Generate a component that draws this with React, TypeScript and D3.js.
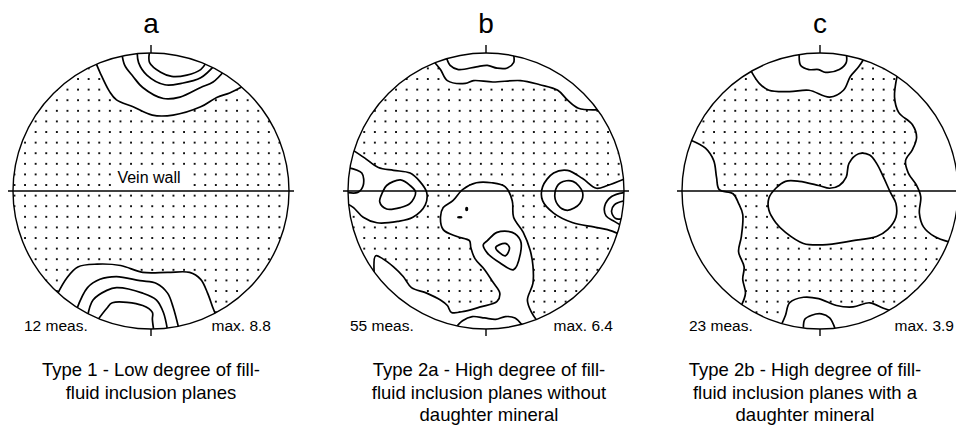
import React, { useEffect, useRef } from 'react';
import * as d3 from 'd3';

type Pt = [number, number];

// Contours are digitised in net units: percent of the primitive radius, x to the right, y up.

// net a - Type 1
const aTop1: Pt[] = [[-40, 93], [-37, 86], [-30, 72], [-25, 66], [-13, 61], [1, 55], [16, 55], [36, 61], [48, 68], [57, 71], [67, 76]];
const aTop2: Pt[] = [[-21, 99], [-19, 91], [-13, 83], [-6, 75], [9, 67], [21, 68], [36, 75], [45, 79], [53, 87]];
const aTop3: Pt[] = [[-10, 101], [-9, 93], [-3, 84], [10, 77], [22, 78], [36, 82], [46, 91]];
const aTop4: Pt[] = [[-1, 101], [-1, 93], [7, 86], [15, 83], [26, 84], [36, 88], [40, 93]];
const aBot1: Pt[] = [[-68, -75], [-61, -63], [-53, -55], [-39, -53], [-22, -54], [-6, -59], [12, -59], [28, -59], [36, -64], [41, -74], [45, -85], [47, -90]];
const aBot2: Pt[] = [[-54, -86], [-46, -70], [-37, -64], [-25, -62], [-8, -65], [4, -67], [12, -74], [16, -84], [20, -99]];
const aBot3: Pt[] = [[-46, -91], [-42, -79], [-32, -72], [-25, -70], [-6, -74], [4, -79], [9, -88], [12, -101]];
const aBot4: Pt[] = [[-39, -94], [-32, -85], [-28, -81], [-6, -83], [1, -88], [1, -93], [2, -101]];

// net b - Type 2a
const bTop1: Pt[] = [[-38, 94], [-33, 88], [-28, 80], [-15, 78], [-9, 80], [5, 79], [25, 80], [39, 77], [52, 73], [59, 66], [67, 60], [83, 59]];
const bTop2: Pt[] = [[-29, 98], [-26, 91], [-20, 88], [-7, 90], [1, 91], [8, 89], [15, 89], [20, 93], [20, 99]];
const bLeft1: Pt[] = [[-97, 30], [-88, 24], [-78, 17], [-67, 15], [-55, 13], [-48, 7], [-43, -1], [-44, -10], [-53, -19], [-64, -22], [-79, -23], [-89, -19], [-96, -12], [-101, -9]];
const bLeft2: Pt[] = [[-100, 17], [-90, 13], [-89, 4], [-93, -1], [-101, -1]];
const bLeft3: Pt[] = [[-72, 4], [-62, 8], [-55, 4], [-51, -1], [-55, -9], [-62, -12], [-72, -13], [-77, -8], [-75, -1]];
const bRight1: Pt[] = [[101, 9], [88, 4], [80, 2], [70, 9], [59, 15], [49, 13], [41, 3], [41, -7], [49, -16], [63, -23], [78, -26], [88, -28], [96, -31]];
const bRight2: Pt[] = [[101, -1], [91, -4], [86, -11], [87, -18], [93, -22], [98, -25]];
const bRight3: Pt[] = [[54, 6], [63, 7], [70, -1], [68, -9], [59, -14], [52, -10], [50, -1]];
const bRight4: Pt[] = [[101, -7], [93, -10], [91, -15], [94, -20], [99, -20]];
const bCentral: Pt[] = [[-81, -60], [-80, -47], [-75, -49], [-67, -55], [-60, -62], [-54, -70], [-43, -74], [-33, -79], [-28, -83], [-25, -88], [-15, -87], [-4, -84], [8, -80], [10, -74], [5, -66], [-1, -57], [-8, -49], [-11, -41], [-12, -36], [-21, -33], [-31, -28], [-33, -19], [-31, -12], [-24, -7], [-17, 1], [-7, 6], [4, 6], [14, 3], [19, -7], [20, -19], [27, -30], [32, -43], [34, -54], [34, -67], [30, -79], [33, -88], [37, -94]];
const bCentral2: Pt[] = [[1, -36], [8, -30], [19, -30], [25, -36], [25, -45], [20, -57], [10, -52], [1, -45], [-2, -39]];
const bCentral3: Pt[] = [[7, -41], [14, -38], [17, -41], [14, -47]];
const bBottom: Pt[] = [[-22, -99], [-17, -94], [-10, -91], [-1, -92], [7, -93], [14, -91], [21, -92], [26, -97]];
const bSpecks: Pt[] = [[-14, -13], [-19, -19]];

// net c - Type 2b
const cTop1: Pt[] = [[-50, 87], [-44, 78], [-37, 73], [-22, 72], [-8, 73], [7, 68], [17, 73], [22, 83], [28, 90], [32, 96]];
const cTop2: Pt[] = [[-15, 100], [-14, 91], [-8, 88], [-1, 88], [4, 86], [14, 88], [19, 93], [19, 100]];
const cLeft: Pt[] = [[-94, 37], [-83, 31], [-77, 22], [-75, 10], [-73, 1], [-63, -2], [-59, -9], [-56, -17], [-57, -33], [-59, -44], [-55, -55], [-56, -64], [-54, -74], [-57, -83]];
const cRight: Pt[] = [[56, 84], [54, 68], [57, 57], [67, 48], [70, 39], [67, 30], [62, 22], [64, 13], [70, 4], [73, -4], [72, -16], [75, -26], [83, -33], [94, -37]];
const cCentre: Pt[] = [[-32, 2], [-25, 7], [-15, 7], [-1, 4], [7, 2], [14, 4], [19, 10], [21, 20], [28, 27], [36, 26], [41, 20], [46, 10], [51, -1], [55, -9], [55, -19], [49, -28], [41, -33], [24, -36], [2, -39], [-12, -38], [-25, -30], [-32, -23], [-37, -14], [-37, -5]];
const cBot1: Pt[] = [[-28, -97], [-25, -90], [-22, -81], [-12, -77], [-1, -78], [12, -83], [24, -84], [36, -81], [46, -85], [52, -87]];
const cBot2: Pt[] = [[-12, -100], [-11, -93], [-6, -90], [1, -89], [7, -92], [11, -100]];

// contours that end on the primitive circle, and closed loops
const netOpen: Pt[][][] = [
  [aTop1, aTop2, aTop3, aTop4, aBot1, aBot2, aBot3, aBot4],
  [bTop1, bTop2, bLeft1, bLeft2, bRight1, bRight2, bRight4, bCentral, bBottom],
  [cTop1, cTop2, cLeft, cRight, cBot1, cBot2],
];
const netLoops: Pt[][][] = [
  [],
  [bLeft3, bRight3, bCentral2, bCentral3],
  [cCentre],
];
const netSpecks: Pt[][] = [[], bSpecks, []];

const netNames = ['a', 'b', 'c'];
const measCounts = [12, 55, 23];
const maxValues = ['8.8', '6.4', '3.9'];
const captions = [
  ['Type 1 - Low degree of fill-', 'fluid inclusion planes'],
  ['Type 2a - High degree of fill-', 'fluid inclusion planes without', 'daughter mineral'],
  ['Type 2b - High degree of fill-', 'fluid inclusion planes with a', 'daughter mineral'],
];

const W = 956;
const H = 425;
const R = 138;
const CY = 191;
const DOT_STEP = 10.6;
const FONT = '"Liberation Sans", Arial, Helvetica, sans-serif';

const layout = [
  { cx: 151, captionX: 151, measX: 24, maxX: 271 },
  { cx: 486, captionX: 489, measX: 350, maxX: 613 },
  { cx: 820, captionX: 805, measX: 689, maxX: 954 },
];

const App = () => {
  const ref = useRef<SVGSVGElement>(null);

  useEffect(() => {
    const svg = d3.select(ref.current);
    svg.selectAll('*').remove();

    const defs = svg.append('defs');
    const pat = defs
      .append('pattern')
      .attr('id', 'stipple')
      .attr('patternUnits', 'userSpaceOnUse')
      .attr('width', DOT_STEP)
      .attr('height', DOT_STEP);
    pat
      .append('rect')
      .attr('x', 3)
      .attr('y', 4)
      .attr('width', 1.4)
      .attr('height', 1.4)
      .attr('fill', '#111')
      .attr('shape-rendering', 'crispEdges');

    layout.forEach((L, i) => {
      const x = d3.scaleLinear().domain([-100, 100]).range([L.cx - R, L.cx + R]);
      const y = d3.scaleLinear().domain([-100, 100]).range([CY + R, CY - R]);

      const clipId = `net-clip-${i}`;
      defs.append('clipPath').attr('id', clipId).append('circle').attr('cx', L.cx).attr('cy', CY).attr('r', R);

      const g = svg.append('g');
      g.append('circle').attr('cx', L.cx).attr('cy', CY).attr('r', R).attr('fill', 'url(#stipple)');

      const inner = g.append('g').attr('clip-path', `url(#${clipId})`);
      const openLine = d3
        .line<Pt>()
        .x((d) => x(d[0]))
        .y((d) => y(d[1]))
        .curve(d3.curveCatmullRom.alpha(0.5));
      const loopLine = d3
        .line<Pt>()
        .x((d) => x(d[0]))
        .y((d) => y(d[1]))
        .curve(d3.curveCatmullRomClosed.alpha(0.5));

      // blank out the denser classes, stipple stays only in the lowest one
      netOpen[i].forEach((pts) => {
        const p = d3.path();
        openLine.context(p as any)(pts);
        openLine.context(null);
        const first = pts[0];
        const last = pts[pts.length - 1];
        const a1 = Math.atan2(y(last[1]) - CY, x(last[0]) - L.cx);
        const a0 = Math.atan2(y(first[1]) - CY, x(first[0]) - L.cx);
        let delta = a0 - a1;
        if (delta > Math.PI) delta -= 2 * Math.PI;
        if (delta < -Math.PI) delta += 2 * Math.PI;
        p.arc(L.cx, CY, R + 4, a1, a0, delta < 0);
        p.closePath();
        inner.append('path').attr('d', p.toString()).attr('fill', '#fff');
      });
      netLoops[i].forEach((pts) => {
        inner.append('path').attr('d', loopLine(pts)).attr('fill', '#fff');
      });

      // contour lines
      netOpen[i].forEach((pts) => {
        inner
          .append('path')
          .attr('d', openLine(pts))
          .attr('fill', 'none')
          .attr('stroke', '#000')
          .attr('stroke-width', 1.7)
          .attr('stroke-linejoin', 'round');
      });
      netLoops[i].forEach((pts) => {
        inner
          .append('path')
          .attr('d', loopLine(pts))
          .attr('fill', 'none')
          .attr('stroke', '#000')
          .attr('stroke-width', 1.7)
          .attr('stroke-linejoin', 'round');
      });
      netSpecks[i].forEach((d, k) => {
        inner
          .append('ellipse')
          .attr('cx', x(d[0]))
          .attr('cy', y(d[1]))
          .attr('rx', k === 0 ? 1.6 : 2.8)
          .attr('ry', k === 0 ? 2.2 : 1.3)
          .attr('fill', '#000');
      });

      if (i === 0) {
        g.append('rect').attr('x', L.cx - 36).attr('y', CY - 20).attr('width', 70).attr('height', 16).attr('fill', '#fff');
        g.append('text')
          .attr('x', L.cx - 2)
          .attr('y', CY - 8)
          .attr('text-anchor', 'middle')
          .attr('font-family', FONT)
          .attr('font-size', 16)
          .text('Vein wall');
      }

      // vein wall trace, primitive circle and N/S ticks
      g.append('line')
        .attr('x1', L.cx - R - 5)
        .attr('x2', L.cx + R + 5)
        .attr('y1', CY)
        .attr('y2', CY)
        .attr('stroke', '#000')
        .attr('stroke-width', 1.7);
      g.append('circle')
        .attr('cx', L.cx)
        .attr('cy', CY)
        .attr('r', R)
        .attr('fill', 'none')
        .attr('stroke', '#000')
        .attr('stroke-width', 1.4);
      g.append('line').attr('x1', L.cx).attr('x2', L.cx).attr('y1', CY - R - 8).attr('y2', CY - R).attr('stroke', '#000').attr('stroke-width', 1.4);
      g.append('line').attr('x1', L.cx).attr('x2', L.cx).attr('y1', CY + R).attr('y2', CY + R + 7).attr('stroke', '#000').attr('stroke-width', 1.4);

      g.append('text')
        .attr('x', L.cx)
        .attr('y', 33)
        .attr('text-anchor', 'middle')
        .attr('font-family', FONT)
        .attr('font-size', 28)
        .text(netNames[i]);

      g.append('text')
        .attr('x', L.measX)
        .attr('y', 331)
        .attr('font-family', FONT)
        .attr('font-size', 15.5)
        .text(`${measCounts[i]} meas.`);
      g.append('text')
        .attr('x', L.maxX)
        .attr('y', 331)
        .attr('text-anchor', 'end')
        .attr('font-family', FONT)
        .attr('font-size', 15.5)
        .text(`max. ${maxValues[i]}`);

      captions[i].forEach((line, k) => {
        g.append('text')
          .attr('x', L.captionX)
          .attr('y', 376 + k * 22.5)
          .attr('text-anchor', 'middle')
          .attr('font-family', FONT)
          .attr('font-size', 18.5)
          .text(line);
      });
    });
  }, []);

  return (
    <svg
      ref={ref}
      width={W}
      height={H}
      style={{ position: 'fixed', left: 0, top: 0, background: '#fff' }}
    ></svg>
  );
};

export default App;
